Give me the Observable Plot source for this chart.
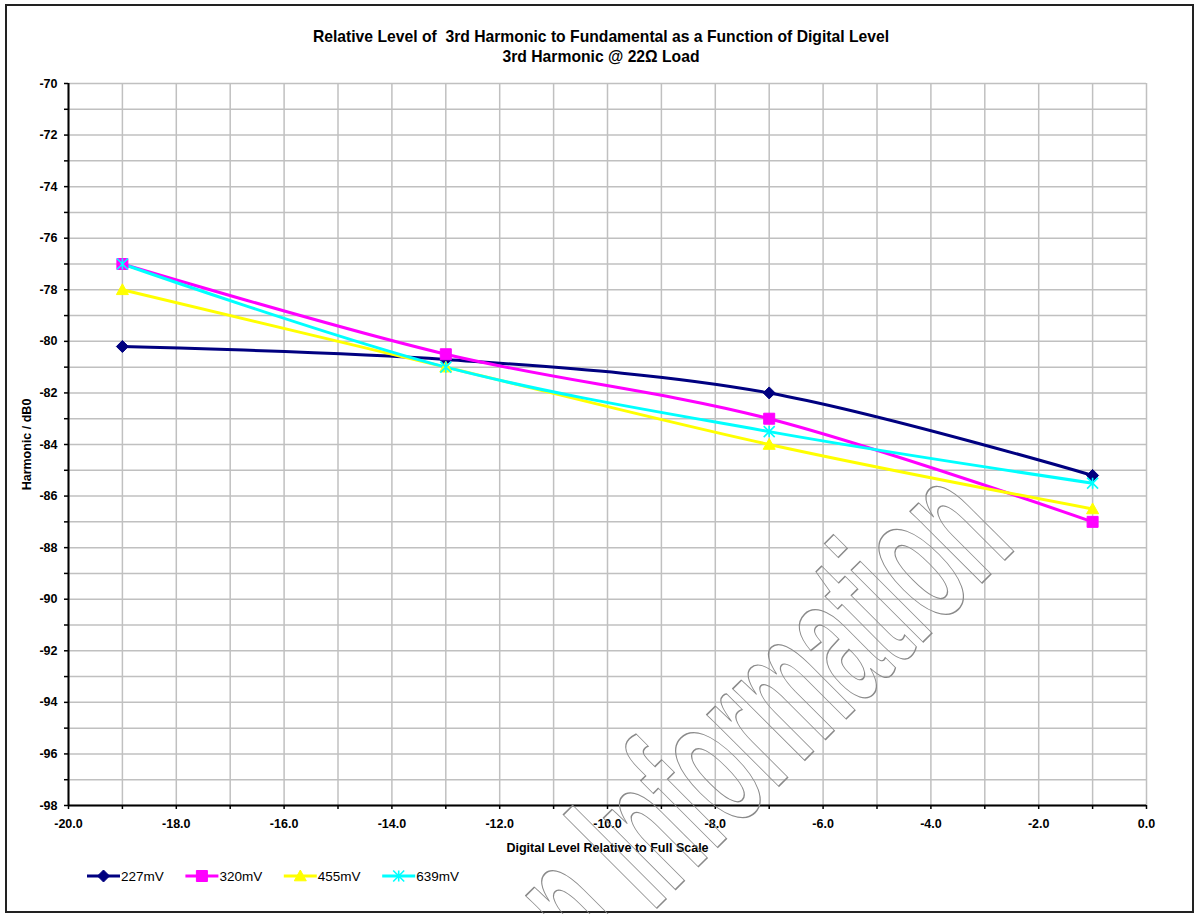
<!DOCTYPE html>
<html>
<head>
<meta charset="utf-8">
<script src="https://cdn.jsdelivr.net/npm/d3@7"></script>
<script src="https://cdn.jsdelivr.net/npm/@observablehq/plot@0.6"></script>
<style>
  html, body { margin: 0; padding: 0; background: #fff; }
  #wrap { position: relative; width: 1194px; height: 914px; overflow: hidden; font-family: "Liberation Sans", Arial, sans-serif; }
  #frame { position: absolute; left: 5px; top: 4px; width: 1189px; height: 909px; border: 2px solid #222; box-sizing: border-box; }
  #title { position: absolute; left: 0; top: 27px; width: 1202px; text-align: center; font-weight: bold; font-size: 15.7px; line-height: 20px; white-space: pre; color: #000; }
  #chart { position: absolute; left: 0; top: 70px; }
  #legend { position: absolute; left: 0; top: 866px; }
  #wm { position: absolute; left: 0; top: 0; pointer-events: none; }
</style>
</head>
<body>
<div id="wrap">
  <div id="frame"></div>
  <div id="title">Relative Level of  3rd Harmonic to Fundamental as a Function of Digital Level
3rd Harmonic @ 22Ω Load</div>
  <div id="chart"></div>
  <div id="legend"></div>
</div>
<script>
// ---- data ----
const levels = [-19, -13, -7, -1];
const seriesNames = ["227mV", "320mV", "455mV", "639mV"];
const v227 = [-80.2, -80.7, -82.0, -85.2];
const v320 = [-77.0, -80.5, -83.0, -87.0];
const v455 = [-78.0, -81.0, -84.0, -86.5];
const v639 = [-77.0, -81.0, -83.5, -85.5];
const seriesColors = ["#000080", "#ff00ff", "#ffff00", "#00ffff"];
const xTickValues = d3.range(-20, 0.5, 1);
const yTickValues = d3.range(-98, -69.5, 1);

const allValues = [v227, v320, v455, v639];
const rows = [];
seriesNames.forEach((s, i) => levels.forEach((x, j) => rows.push({series: s, x, y: allValues[i][j]})));

// custom marker shapes (Excel-like)
const rad = size => Math.sqrt(size / Math.PI);
const symDiamond = {draw(c, size) { const r = rad(size); c.moveTo(0, -r); c.lineTo(r, 0); c.lineTo(0, r); c.lineTo(-r, 0); c.closePath(); }};
const symSquare = {draw(c, size) { const r = rad(size); c.rect(-r, -r, 2 * r, 2 * r); }};
const symTriangle = {draw(c, size) { const r = rad(size); c.moveTo(0, -r); c.lineTo(r, r * 0.8); c.lineTo(-r, r * 0.8); c.closePath(); }};
const symStar = {draw(c, size) { const r = rad(size); c.moveTo(-r, -r); c.lineTo(r, r); c.moveTo(r, -r); c.lineTo(-r, r); c.moveTo(0, -r); c.lineTo(0, r); }};
const markers = [
  {sym: symDiamond, r: 6, fill: true},
  {sym: symSquare, r: 5.5, fill: true},
  {sym: symTriangle, r: 6, fill: true},
  {sym: symStar, r: 5.5, fill: false}
];

const colorScale = {domain: seriesNames, range: seriesColors};

const marks = [
  Plot.gridX(xTickValues, {stroke: "#c0c0c0", strokeOpacity: 1, strokeWidth: 1.5}),
  Plot.gridY(yTickValues, {stroke: "#c0c0c0", strokeOpacity: 1, strokeWidth: 1.5}),
  Plot.axisX(xTickValues, {
    tickSize: 4, tickPadding: 10, strokeWidth: 1.5, fontSize: 12.5,
    tickFormat: d => (d % 2 === 0 ? d.toFixed(1) : ""),
    label: "Digital Level Relative to Full Scale", labelAnchor: "center", labelArrow: "none", labelOffset: 46
  }),
  Plot.axisY(yTickValues, {
    tickSize: 4, tickPadding: 7, strokeWidth: 1.5, fontSize: 12.5,
    tickFormat: d => (d % 2 === 0 ? String(d) : ""),
    label: "Harmonic / dB0", labelAnchor: "center", labelArrow: "none", labelOffset: 46
  }),
  Plot.ruleX([-20], {stroke: "#000", strokeWidth: 2}),
  Plot.ruleY([-98], {stroke: "#000", strokeWidth: 2}),
  Plot.line(rows, {x: "x", y: "y", z: "series", stroke: "series", strokeWidth: 3, curve: "cardinal"})
];
seriesNames.forEach((s, i) => {
  const m = markers[i];
  marks.push(Plot.dot(rows.filter(d => d.series === s), {
    x: "x", y: "y", symbol: () => m.sym, r: m.r,
    fill: m.fill ? seriesColors[i] : "none",
    stroke: seriesColors[i], strokeWidth: m.fill ? 1 : 1.6
  }));
});

const chart = Plot.plot({
  width: 1194, height: 790,
  marginLeft: 68, marginRight: 48, marginTop: 13, marginBottom: 55,
  x: {domain: [-20, 0]},
  y: {domain: [-98, -70]},
  color: colorScale,
  symbol: {type: "identity"},
  style: {fontFamily: "'Liberation Sans', Arial, sans-serif", fontSize: "12.5px", fontWeight: "bold", color: "#000", background: "transparent", overflow: "visible"},
  marks
});
document.getElementById("chart").appendChild(chart);

// ---- legend ----
const leg = d3.select("#legend").append("svg").attr("width", 600).attr("height", 24);
seriesNames.forEach((s, i) => {
  const g = leg.append("g").attr("transform", `translate(${87 + i * 98.4},10)`);
  g.append("line").attr("x1", 0).attr("x2", 33).attr("y1", 0).attr("y2", 0).attr("stroke", seriesColors[i]).attr("stroke-width", 3);
  const m = markers[i];
  g.append("path").attr("transform", "translate(16.5,0)")
    .attr("d", d3.symbol().type(m.sym).size(m.r * m.r * Math.PI)())
    .attr("fill", m.fill ? seriesColors[i] : "none").attr("stroke", seriesColors[i]).attr("stroke-width", m.fill ? 1 : 1.6);
  g.append("text").attr("x", 34).attr("y", 5).attr("font-size", 13.5).attr("font-family", "'Liberation Sans', Arial, sans-serif").text(s);
});

// ---- watermark ----
const wm = d3.select("#wrap").append("svg").attr("id", "wm").attr("width", 1194).attr("height", 914);
wm.append("text")
  .attr("transform", "translate(1018,547) rotate(-45) scale(0.49,1)")
  .attr("text-anchor", "end")
  .attr("font-family", "'Liberation Sans', Arial, sans-serif")
  .attr("font-weight", "bold")
  .attr("font-size", 192)
  .attr("fill", "none").attr("stroke", "#8a8a8a").attr("stroke-width", 1.5)
  .text("n Information");
</script>
</body>
</html>
